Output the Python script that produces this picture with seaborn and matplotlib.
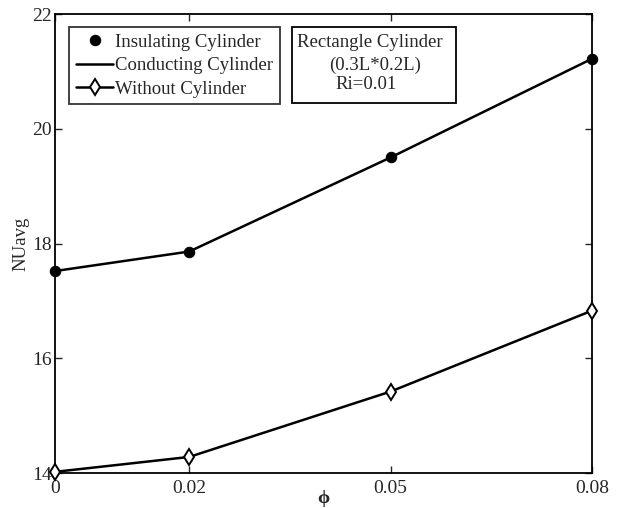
#!/usr/bin/env python3

# plot.py
#
# Average Nusselt number against nanoparticle volume fraction.
import matplotlib
matplotlib.use('Agg')
import matplotlib.pyplot as plt
import matplotlib.patches as patches
import pandas as pd
import seaborn as sb

# Values
PHI = [0, 0.02, 0.05, 0.08]
PHI_LABELS = ['0', '0.02', '0.05', '0.08']
INSULATING = [17.52, 17.86, 19.50, 21.22]
CONDUCTING = [17.52, 17.86, 19.50, 21.22]
WITHOUT = [14.02, 14.28, 15.42, 16.83]
NU_TICKS = [14, 16, 18, 20, 22]

INFO_LINES = ['Rectangle Cylinder', '(0.3L*0.2L)', 'Ri=0.01']


def main():
  sb.set_style('ticks')
  plt.rcParams['font.family'] = ['Liberation Serif', 'DejaVu Serif']
  plt.rcParams['xtick.direction'] = 'in'
  plt.rcParams['ytick.direction'] = 'in'

  data = pd.DataFrame({'phi': PHI, 'insulating': INSULATING,
                       'conducting': CONDUCTING, 'without': WITHOUT})

  figure = plt.figure(figsize=(6.22, 5.08), dpi=100)
  axis = figure.add_axes([55 / 622, 35 / 508, 537 / 622, 459 / 508])

  # Curves, conducting drawn as a plain line under the insulating markers
  sb.lineplot(data=data, x='phi', y='conducting', color='black', linewidth=1.8,
              label='Conducting Cylinder', ax=axis, zorder=2)
  sb.lineplot(data=data, x='phi', y='insulating', color='black', linestyle='',
              marker='o', markersize=7.5, markeredgecolor='black',
              label='Insulating Cylinder', ax=axis, zorder=3)
  sb.lineplot(data=data, x='phi', y='without', color='black', linewidth=1.8,
              marker='d', markersize=8, markerfacecolor='white',
              markeredgecolor='black', markeredgewidth=1.4,
              label='Without Cylinder', ax=axis, zorder=3)

  # Axis formatting
  axis.set_xlim(0, 0.08)
  axis.set_ylim(14, 22)
  axis.set_xticks(PHI)
  axis.set_xticklabels(PHI_LABELS)
  axis.set_yticks(NU_TICKS)
  axis.tick_params(axis='both', which='major', labelsize=14, length=5,
                   width=1, top=True, right=True, pad=2)
  axis.tick_params(axis='x', pad=5)
  axis.set_xlabel('ϕ', fontsize=14, fontweight='bold', labelpad=-5)
  axis.set_ylabel('NUavg', fontsize=13.5, labelpad=2)
  for spine in axis.spines.values():
    spine.set_linewidth(1.3)
    spine.set_color('black')
  for item in axis.get_lines():
    item.set_clip_on(False)

  # Legend in the requested order
  handles, labels = axis.get_legend_handles_labels()
  order = [labels.index(l) for l in ['Insulating Cylinder', 'Conducting Cylinder', 'Without Cylinder']]
  legend = axis.legend([handles[i] for i in order], [labels[i] for i in order],
                       loc='upper left', bbox_to_anchor=(14 / 537, 446 / 459),
                       borderaxespad=0, fontsize=13.5, frameon=True, fancybox=False,
                       handlelength=2.0, handletextpad=0.1, labelspacing=0.33,
                       borderpad=0.36, edgecolor='black')
  legend.get_frame().set_linewidth(1.3)

  # Case description box
  axis.add_patch(patches.Rectangle((237 / 537, 370 / 459), 164 / 537, 76 / 459,
                                   transform=axis.transAxes, fill=False,
                                   edgecolor='black', linewidth=1.3, zorder=4))
  for text, x, y in zip(INFO_LINES, [242, 274, 280], [431, 408, 389]):
    axis.text(x / 537, y / 459, text, transform=axis.transAxes, fontsize=13.5,
              ha='left', va='center')

  figure.savefig('out.png', dpi=100)
  plt.close(figure)


if __name__ == '__main__':
  main()
